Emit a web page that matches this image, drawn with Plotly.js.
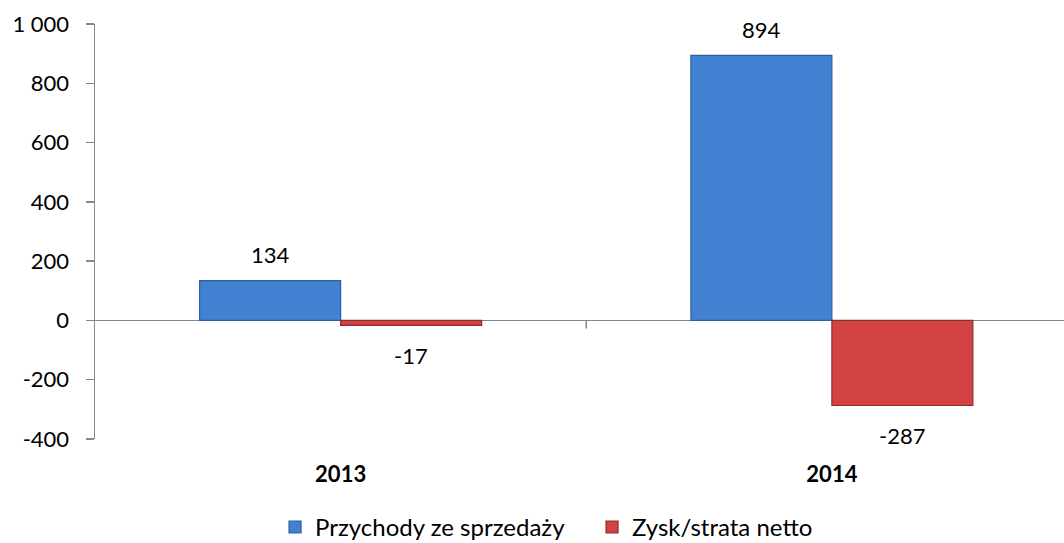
<!DOCTYPE html>
<html>
<head>
<meta charset="utf-8">
<script src="https://cdn.plot.ly/plotly-3.0.1.min.js"></script>
<style>
html,body{margin:0;padding:0;background:#fff;}
#chart{width:1064px;height:543px;}
</style>
</head>
<body>
<div id="chart"></div>
<script>
const categories = ["2013", "2014"];
const seriesNames = ["Przychody ze sprzedaży", "Zysk/strata netto"];
const revenue = [134, 894];
const netProfit = [-17, -287];
const yTickVals = [-400, -200, 0, 200, 400, 600, 800, 1000];
const yTickText = ["-400", "-200", "0", "200", "400", "600", "800", "1 000"];

const FONT = "Lato, 'Open Sans', sans-serif";
const axisGrey = "#868686";
const FS = 22;

const traces = [
  {
    type: "bar", name: seriesNames[0], x: categories, y: revenue,
    marker: {color: "#4281d2", line: {color: "#2f5f9f", width: 1.2}},
    hoverinfo: "x+y"
  },
  {
    type: "bar", name: seriesNames[1], x: categories, y: netProfit,
    marker: {color: "#d24242", line: {color: "#8f2b2b", width: 1.2}},
    hoverinfo: "x+y"
  }
];

const annotations = [];
const seriesVals = [revenue, netProfit];
const barOffset = [-0.1436, 0.1436];
seriesVals.forEach((vals, s) => {
  vals.forEach((v, i) => {
    annotations.push({
      x: i + barOffset[s], y: v, xref: "x", yref: "y",
      text: String(v), showarrow: false,
      yshift: v >= 0 ? 26 : -30,
      yanchor: "middle", xanchor: "center",
      font: {family: FONT, size: FS, color: "#000000"}
    });
  });
});

const shapes = [{
  type: "line", xref: "x", yref: "y", x0: 0.5, x1: 0.5,
  ysizemode: "pixel", yanchor: 0, y0: 0, y1: -8,
  line: {color: axisGrey, width: 1.5}
}];

const layout = {
  width: 1064, height: 543,
  margin: {l: 95, r: 0, t: 24, b: 104, autoexpand: false},
  paper_bgcolor: "#fff", plot_bgcolor: "#fff",
  font: {family: FONT, size: FS, color: "#000"},
  barmode: "group", bargap: 0.426, bargroupgap: 0,
  showlegend: true,
  legend: {
    orientation: "h", x: 0.1858, xanchor: "left", xref: "paper",
    y: -0.213, yanchor: "middle", yref: "paper",
    font: {family: FONT, size: 24, color: "#000"},
    itemclick: false, traceorder: "normal", itemwidth: 30,
    entrywidth: 272, entrywidthmode: "pixels"
  },
  xaxis: {
    type: "category", range: [-0.5, 1.4725],
    showline: false, showgrid: false, zeroline: false,
    ticks: "", ticklabelstandoff: 20,
    tickfont: {family: FONT, size: FS, color: "#000", weight: "bold"},
    fixedrange: true
  },
  yaxis: {
    range: [-400, 1000], tickvals: yTickVals, ticktext: yTickText,
    showline: true, linecolor: axisGrey, linewidth: 1.5,
    ticks: "outside", ticklen: 8, tickcolor: axisGrey, tickwidth: 1.5,
    showgrid: false, zeroline: true, zerolinecolor: axisGrey, zerolinewidth: 1.5,
    tickfont: {family: FONT, size: FS, color: "#000"},
    ticklabelstandoff: 12,
    fixedrange: true
  },
  annotations: annotations,
  shapes: shapes
};

Plotly.newPlot("chart", traces, layout, {displayModeBar: false, staticPlot: true});
</script>
</body>
</html>
